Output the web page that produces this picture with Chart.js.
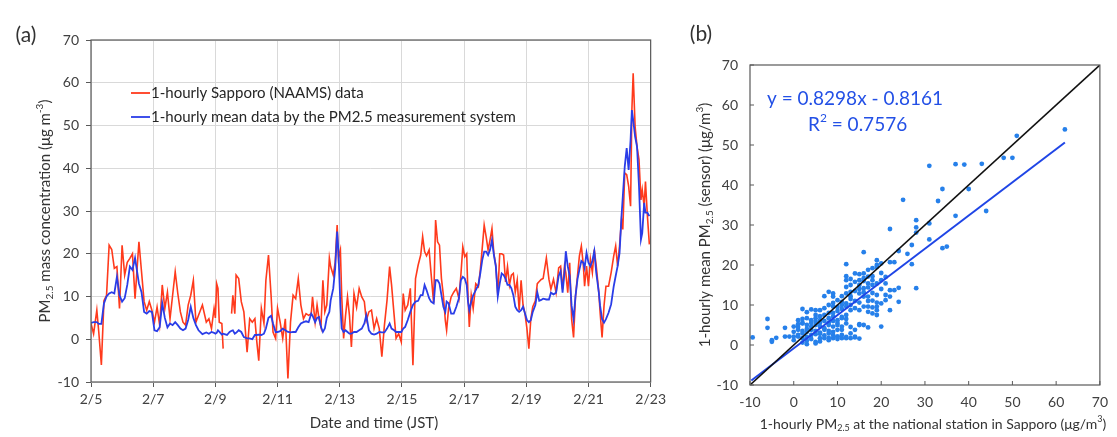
<!DOCTYPE html>
<html>
<head>
<meta charset="utf-8">
<script src="https://cdn.jsdelivr.net/npm/chart.js@4.4.1/dist/chart.umd.min.js"></script>
<style>
  body { margin: 0; background: #fff; }
  #wrap { position: relative; width: 1117px; height: 437px; }
  canvas { position: absolute; top: 0; }
</style>
</head>
<body>
<div id="wrap">
  <canvas id="chartA" width="670" height="437" style="left:0;width:670px;height:437px"></canvas>
  <canvas id="chartB" width="447" height="437" style="left:670px;width:447px;height:437px"></canvas>
</div>
<script>
// (a) time series, hours since 2/5 00:00 JST
const hours = [0,2,4.5,6,8,10,12,14,16,18,20,22,24,26,28,30,32,34,37,39,41,43,45,47,49,51,53,55,57,59,61,63,65,67,69,71,73,75,77,79,81,83,86,89,91,93,95,96,97,98,99,101,102,103,105,107,108.5,109.5,111,112,114,116,118,120.5,122.5,124.5,126.5,128,129.5,131.5,133.5,135,137,139,140.5,142.5,144,146,148,150,152,154,156,158,160,162,164,166,168,170,171,173,174.5,176,177.5,179,180.5,182,184,185,187,188.5,190,191,192.5,193.5,195,196.5,198,199.5,201,203,205,207,209,211,212.5,214.5,216.5,218.5,220.5,222.5,224.5,226.5,228.5,230.5,232,234,235.5,237.5,239.5,241,242.5,244.5,246.5,248.5,250.5,252.5,254.5,256,257.5,259,261,262.5,264.5,266,267.5,269,270.5,272,273.5,274.5,276,278,280,282,284,285.5,287,288.5,290,291,292,293.5,295,297,299,300.5,302,303.5,305,306.5,308,309.5,311,312.5,314,315.5,317,318.5,320,321.5,323,324.5,326,327.5,329,330.5,332,333.5,335,336.5,338,339.5,341,343,344.5,346,347.5,349,351.5,353.5,355,357,359,361,362.5,364,365.5,366.5,368,369.5,371,372.5,374,375.5,377,378.5,380,381,382.5,384,385.5,387,388.5,390,392,393,394.5,396,397.5,399.5,401.5,403.5,405,406.5,408,409.5,410.5,412,413.5,415,416.5,417.5,418.5,420,421.5,423,424.5,425.5,427,428,429.5,431];
const sapporo = [3.7,1.3,6.8,1.7,-6.0,9.0,10.3,22.0,21.0,16.6,17.0,7.2,22.0,15.0,18.0,18.9,20.0,9.5,22.8,15.8,8.8,6.8,8.8,6.8,4.0,7.5,3.3,12.7,7.2,11.0,4.8,10.3,15.8,10.7,6.4,4.0,3.3,8.0,10.3,13.8,4.0,5.6,8.0,4.0,4.8,2.5,7.2,5.0,13.0,11.9,4.0,3.7,-2.2,null,null,null,6.0,10.3,6.0,15.0,14.2,8.8,6.4,-3.0,4.8,4.0,4.8,-0.6,-5.0,7.2,3.7,13.8,19.7,10.3,1.7,0.2,7.2,4.0,0.2,4.8,-9.2,4.0,10.3,9.5,14.2,8.0,4.8,6.0,5.6,6.0,9.9,4.0,8.0,4.8,2.9,13.8,6.4,8.0,19.0,17.0,15.0,18.0,26.7,19.0,20.9,10.3,0.2,5.6,9.9,5.6,-1.8,10.7,7.5,11.9,9.9,8.8,4.4,6.4,6.8,2.5,4.8,2.5,-4.1,3.3,9.1,17.0,12.7,5.6,0.2,1.3,-0.6,10.7,6.8,8.0,11.9,-6.1,14.2,17.3,19.7,24.0,20.5,19.5,20.9,15.4,8.4,27.9,22.8,22.0,14.2,10.3,4.4,2.1,7.2,9.9,11.0,11.9,9.5,15.0,21.6,19.3,20.0,10.3,2.9,10.3,7.2,13.0,12.3,16.2,21.3,26.7,24.0,20.9,23.2,25.9,20.0,17.3,10.3,20.0,20.0,19.7,13.4,17.0,12.7,15.0,15.4,11.0,13.8,6.8,13.8,8.0,6.0,2.5,-2.2,4.8,7.6,9.0,13.0,13.5,14.0,14.2,19.0,14.0,11.7,14.0,10.9,16.7,17.1,11.7,17.1,15.6,10.9,17.9,4.7,0.4,10.1,14.8,19.5,21.8,17.5,12.4,17.1,12.4,18.7,15.6,21.0,17.1,10.9,6.2,0.4,7.8,12.4,12.4,15.6,19.5,21.8,17.1,21.8,28.0,25.7,38.9,38.5,35.8,31.1,53.6,62.2,49.7,45.0,42.0,32.6,35.0,31.1,36.9,28.8,22.2];
const sensor = [3.8,4.0,4.0,3.6,3.6,8.4,10.0,10.7,11.0,10.7,14.6,10.3,8.8,9.6,12.7,17.0,16.2,19.0,13.0,11.0,6.4,6.0,6.6,6.4,2.1,1.9,2.8,8.4,5.0,2.8,3.7,3.3,4.0,3.3,2.5,2.1,2.5,4.5,7.6,5.0,3.3,2.1,1.2,1.6,1.3,1.7,1.5,1.3,1.5,2.1,1.8,1.1,1.3,1.2,1.0,1.7,2.0,2.1,1.3,1.5,2.1,1.7,0.5,0.2,0.2,0.0,1.0,1.0,1.1,1.0,1.3,2.5,5.0,5.5,3.7,1.7,1.7,1.9,2.5,2.1,1.7,1.6,1.7,1.7,2.8,3.7,4.0,4.2,4.0,6.0,5.5,4.0,5.0,5.2,2.9,1.7,2.5,5.0,6.4,9.1,11.9,16.6,25.2,20.5,8.0,2.5,1.7,2.1,1.7,1.3,1.3,1.7,1.7,2.1,2.5,3.7,5.6,2.1,1.3,1.1,1.3,1.7,1.6,1.6,2.5,3.7,2.5,2.1,1.7,1.7,1.7,2.5,2.9,4.5,6.4,8.0,8.8,9.0,10.3,10.3,12.7,11.5,9.6,8.8,8.4,13.8,13.8,13.0,10.3,7.6,6.4,8.8,8.4,6.0,6.0,7.6,9.6,13.8,14.6,14.2,12.7,8.8,6.8,8.8,10.3,11.5,12.7,15.4,18.5,20.5,20.5,19.7,20.9,23.2,19.7,17.0,10.0,13.0,15.4,15.0,14.2,12.7,12.7,11.9,10.3,7.6,6.8,6.4,6.8,7.6,6.0,4.5,4.0,4.5,6.4,8.0,11.0,9.0,9.2,9.5,9.3,9.3,10.9,10.5,10.9,14.8,15.9,10.9,15.6,20.6,17.1,14.8,7.8,4.7,10.1,14.0,16.3,18.3,17.9,16.7,20.2,17.9,17.1,18.3,20.6,15.6,10.9,7.8,4.7,3.9,4.7,6.2,8.2,12.4,14.8,17.1,20.2,28.8,33.4,40.4,44.7,39.6,46.6,53.6,51.3,47.4,45.0,35.8,23.3,24.8,31.9,29.6,29.6,28.8];
const dateLabels = ['2/5','2/7','2/9','2/11','2/13','2/15','2/17','2/19','2/21','2/23'];

// (b) scatter: national station (x) vs sensor mean (y)
const station = [62,51,48,50,31,37,39,43,34,40,33,25,44,37,28,28,28,31,31,22,34,35,26,27,27,28,24,16,12,19,19,20,22,23,24,24,22,20,19,17,15,14,13,14,15,13,
  15,14,15,16,17,18,19,17,18,12,12,13,14,15,16,17,16,17,18,19,20,21,22,23,21,22,21,20,19,18,17,16,15,13,13,12,11,9,8,7,9,10,11,12,13,15,16,17,18,19,19,18,17,15,14,13,12,11,9,8,7,6,5,2,4,
  15,16,12,11,10,9,8,6,5,4,3,1,2,3,4,5,6,8,9,10,11,10,9,8,7,6,5,3,2,1,0,0,0,0,1,2,3,5,6,7,8,9,10,11,5,3,11,12,10,-1,-2,-2,-4,-5,-5,-6,-6,-9.4,
  1,1,2,2,3,3,4,4,5,5,6,6,7,7,7,8,8,8,9,9,10,10,11,11,12,12,13,14,4,6,2,9,10,11,13,14,14,15,16,17,18,19,20,21,20,18,16,13,12,12,10,9,8,7,6,5,4,3,2,1];
const sensorMean = [53.9,52.3,46.8,46.8,44.8,45.2,45.1,45.3,39,39,36,36.3,33.5,32.3,31.2,29.4,28.1,30.4,26.4,29,24.2,24.6,22.8,25,20.2,14.2,23.5,23.2,20.2,21.2,20,20.4,20.7,20.7,14.3,10.8,8.7,4.6,7.5,4.4,5,3.8,2.9,2.1,1.6,1.7,
  15,17.9,17.7,17.9,18.8,17.2,19.5,17.1,16.2,17.2,16.2,15,15.8,16.2,16.7,15.4,14.2,14.4,15,15.4,16.2,15.4,13.7,13.7,12.5,12.1,11.2,10.4,10.6,11.1,12.1,12.1,12.9,13.3,12.2,12.9,12.2,12.9,13.3,12.2,12.1,11.2,10.8,10.4,10,10.6,9.6,9.6,9.4,9.6,8.7,7.9,8.3,8.7,9.2,8.7,9.6,10,9.6,10,9.2,8.7,8.7,9,8.9,
  5.2,5,5.4,6.7,6.2,7.1,6.7,6.2,6.7,6.2,6.7,6.2,5.4,5,4.6,5,4.6,5,4.6,5,4.6,3.8,3.3,2.9,3.8,3.1,2.7,3.3,2.9,3.8,4.6,3.3,2.1,1.2,2.1,1.7,1.1,0.8,1.7,1.7,1.2,1.7,2.1,1.7,0.4,0.2,3.8,1.7,2.1,2.1,2.1,4.3,1.8,1.2,0.8,6.5,4.3,1.9,
  2.5,4.5,3.5,5.5,2,4,1.5,3.8,3.5,5.8,2.8,5.5,2.4,4.2,6,1.8,3.5,5.6,2.5,6,1.5,5.5,2.5,7,2,6.5,4.5,1.9,2.5,0.9,0.6,8,8.5,9,11.5,11,13.5,14,13.2,11,13,12.5,14,17,18,19.2,16,16.5,14.5,7.5,9.5,10.5,8,7.5,7.2,7.5,5.5,8.2,6.5,5.2];
const fitSlope = 0.8298;
const fitIntercept = -0.8161;
const fitRange = [-9.7, 62];
const oneToOne = [-10, 70];

const FONT = 'Lato, "Open Sans", sans-serif';
const TXT = '#404040';
const AXIS = '#595959';

function drawRich(ctx, parts, x, y, size, color, rotate, align) {
  ctx.save();
  ctx.translate(x, y);
  if (rotate) ctx.rotate(-Math.PI / 2);
  ctx.fillStyle = color;
  ctx.textBaseline = 'middle';
  ctx.textAlign = 'left';
  const fontFor = p => (p.sub || p.sup ? Math.round(size * 0.65) : size) + 'px ' + FONT;
  let total = 0;
  parts.forEach(p => { ctx.font = fontFor(p); total += ctx.measureText(p.t).width; });
  let cx = align === 'left' ? 0 : -total / 2;
  parts.forEach(p => {
    ctx.font = fontFor(p);
    const dy = p.sub ? size * 0.3 : p.sup ? -size * 0.38 : 0;
    ctx.fillText(p.t, cx, dy);
    cx += ctx.measureText(p.t).width;
  });
  ctx.restore();
}

const framePlugin = {
  id: 'frame',
  afterDraw(chart) {
    const a = chart.chartArea, ctx = chart.ctx;
    ctx.save();
    ctx.strokeStyle = AXIS;
    ctx.lineWidth = 1.2;
    ctx.strokeRect(a.left, a.top, a.right - a.left, a.bottom - a.top);
    ctx.restore();
  }
};

// ---------- (a) ----------
const textA = {
  id: 'textA',
  afterDraw(chart) {
    const ctx = chart.ctx;
    drawRich(ctx, [{t: '(a)'}], 26, 35, 21, '#333', false);
    drawRich(ctx, [{t: 'PM'}, {t: '2.5', sub: true}, {t: ' mass concentration (μg m'}, {t: '-3', sup: true}, {t: ')'}], 45, 211, 15, '#333', true);
    drawRich(ctx, [{t: 'Date and time (JST)'}], 374, 423, 15, '#333', false);
    // legend inside plot
    const items = [[chart.data.datasets[1], 93], [chart.data.datasets[0], 117]];
    items.forEach(([ds, y]) => {
      ctx.save();
      ctx.strokeStyle = ds.borderColor;
      ctx.lineWidth = 1.8;
      ctx.beginPath(); ctx.moveTo(131, y); ctx.lineTo(150, y); ctx.stroke();
      ctx.restore();
      drawRich(ctx, [{t: ds.label}], 151, y, 15, '#262626', false, 'left');
    });
  }
};

new Chart(document.getElementById('chartA'), {
  type: 'line',
  data: {
    datasets: [{
      label: '1-hourly mean data by the PM2.5 measurement system',
      data: hours.map((h, i) => ({x: h, y: sensor[i]})),
      borderColor: '#2a3de8',
      borderWidth: 1.8,
      pointRadius: 0,
      tension: 0
    }, {
      label: '1-hourly Sapporo (NAAMS) data',
      data: hours.map((h, i) => ({x: h, y: sapporo[i]})),
      borderColor: '#ff3a1c',
      borderWidth: 1.6,
      pointRadius: 0,
      spanGaps: false,
      tension: 0
    }]
  },
  options: {
    responsive: false,
    animation: false,
    devicePixelRatio: 1,
    layout: {padding: {top: 40, right: 13, left: 0, bottom: 0}},
    plugins: {legend: {display: false}, tooltip: {enabled: false}},
    scales: {
      x: {
        type: 'linear', min: 0, max: 432,
        ticks: {stepSize: 48, autoSkip: false, maxRotation: 0, padding: 4, color: TXT, font: {family: FONT, size: 14},
          callback: v => dateLabels[Math.round(v / 48)]},
        grid: {color: '#d9d9d9', tickColor: AXIS, tickLength: 5},
        border: {display: false},
        afterFit: s => { s.height = 55; }
      },
      y: {
        min: -10, max: 70,
        ticks: {stepSize: 10, padding: 7, color: TXT, font: {family: FONT, size: 14}},
        grid: {color: '#d9d9d9', tickColor: AXIS, tickLength: 5},
        border: {display: false},
        afterFit: s => { s.width = 91; }
      }
    }
  },
  plugins: [framePlugin, textA]
});

// ---------- (b) ----------
const textB = {
  id: 'textB',
  afterDraw(chart) {
    const ctx = chart.ctx, a = chart.chartArea;
    const xs = chart.scales.x, ys = chart.scales.y;
    ctx.save();
    ctx.strokeStyle = AXIS;
    ctx.lineWidth = 1;
    for (let v = -10; v <= 70; v += 10) {
      const px = xs.getPixelForValue(v), py = ys.getPixelForValue(v);
      ctx.beginPath(); ctx.moveTo(px, a.bottom); ctx.lineTo(px, a.bottom - 4); ctx.stroke();
      ctx.beginPath(); ctx.moveTo(a.left, py); ctx.lineTo(a.left + 4, py); ctx.stroke();
    }
    ctx.restore();
    drawRich(ctx, [{t: '(b)'}], 31, 34, 21, '#333', false);
    drawRich(ctx, [{t: '1-hourly mean PM'}, {t: '2.5', sub: true}, {t: ' (sensor) (μg/m'}, {t: '3', sup: true}, {t: ')'}], 35, 225, 15, '#333', true);
    drawRich(ctx, [{t: '1-hourly PM'}, {t: '2.5', sub: true}, {t: ' at the national station in Sapporo (μg/m'}, {t: '3', sup: true}, {t: ')'}], 263, 424, 14, '#333', false);
    drawRich(ctx, [{t: 'y = ' + fitSlope.toFixed(4) + 'x - ' + Math.abs(fitIntercept).toFixed(4)}], 97, 99, 19, '#2350e6', false, 'left');
    drawRich(ctx, [{t: 'R'}, {t: '2', sup: true}, {t: ' = 0.7576'}], 138, 125, 19, '#2350e6', false, 'left');
  }
};

new Chart(document.getElementById('chartB'), {
  type: 'scatter',
  data: {
    datasets: [{
      type: 'line',
      data: oneToOne.map(v => ({x: v, y: v})),
      borderColor: '#111',
      borderWidth: 1.6,
      pointRadius: 0
    }, {
      type: 'line',
      data: fitRange.map(v => ({x: v, y: fitSlope * v + fitIntercept})),
      borderColor: '#1f45e6',
      borderWidth: 2,
      pointRadius: 0
    }, {
      data: station.map((v, i) => ({x: v, y: sensorMean[i]})),
      backgroundColor: '#2680ea',
      borderWidth: 0,
      pointRadius: 2.4
    }]
  },
  options: {
    responsive: false,
    animation: false,
    devicePixelRatio: 1,
    layout: {padding: {top: 65, right: 9, left: 0, bottom: 0}},
    plugins: {legend: {display: false}, tooltip: {enabled: false}},
    scales: {
      x: {
        type: 'linear', min: -10, max: 70,
        ticks: {stepSize: 10, padding: 9, maxRotation: 0, color: TXT, font: {family: FONT, size: 14}},
        grid: {display: false, drawTicks: false},
        border: {display: false},
        afterFit: s => { s.height = 52; }
      },
      y: {
        min: -10, max: 70,
        ticks: {stepSize: 10, padding: 12, color: TXT, font: {family: FONT, size: 14}},
        grid: {display: false, drawTicks: false},
        border: {display: false},
        afterFit: s => { s.width = 80; }
      }
    }
  },
  plugins: [framePlugin, textB]
});
</script>
</body>
</html>
